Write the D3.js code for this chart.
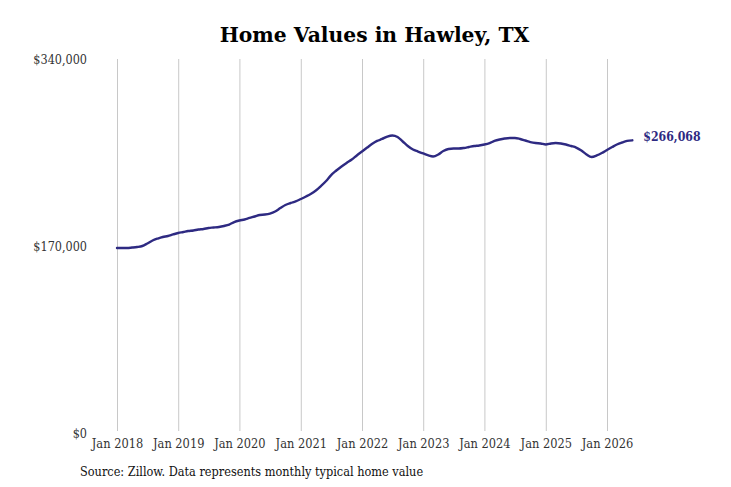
<!DOCTYPE html>
<html>
<head>
<meta charset="utf-8">
<script src="https://cdn.jsdelivr.net/npm/d3@7"></script>
<style>
  body { margin: 0; background: #fff; }
  .chart text { font-family: "DejaVu Serif Condensed", "DejaVu Serif", serif; font-stretch: condensed; }
</style>
</head>
<body>
<div class="chart"></div>
<script>
// Data: monthly typical home value, Hawley TX
const startMonth = "2018-01";
const values = [
    168200, 168200, 168200, 168600, 169100, 170000, 172300, 175000, 176800, 178200, 179100, 180500,
    181800, 182700, 183600, 184100, 185000, 185500, 186400, 186800, 187300, 188200, 189500, 191800,
    193200, 194100, 195500, 196800, 198200, 198600, 199500, 201400, 204500, 207300, 209100, 210500,
    212700, 215000, 217300, 220500, 224500, 229100, 234500, 238600, 242300, 245500, 248600, 252300,
    255900, 259500, 262700, 265500, 267300, 269500, 270500, 269100, 265000, 260900, 257700, 255900,
    254100, 252300, 251400, 253200, 256400, 258200, 258600, 258600, 259100, 260000, 260900, 261400,
    262300, 263600, 265500, 266800, 267700, 268200, 268200, 267300, 265900, 264500, 263600, 263200,
    262300, 263200, 263600, 263200, 262300, 260900, 259500, 256800, 253200, 250900, 252300, 254500,
    257300, 260000, 262300, 264100, 265500, 266068
];
const tickYears = [2018, 2019, 2020, 2021, 2022, 2023, 2024, 2025, 2026];
const yTicks = [0, 170000, 340000];
const endLabel = "$266,068";

const parseMonth = d3.timeParse("%Y-%m");
const data = values.map((v, i) => ({ date: d3.timeMonth.offset(parseMonth(startMonth), i), value: v }));

function drawLineChart(data) {
    const width = 731;
    const height = 487;
    const margin = { top: 59, right: 99, bottom: 54, left: 117 };

    d3.select(".chart").select("svg").remove();
    const svg = d3.select(".chart").append("svg")
        .attr("width", width)
        .attr("height", height);

    // Title
    svg.append("text")
        .attr("x", 374.5)
        .attr("y", 42)
        .attr("text-anchor", "middle")
        .style("font-family", "'DejaVu Serif', serif")
        .style("font-stretch", "normal")
        .style("font-weight", "bold")
        .style("font-size", "20.3px")
        .text("Home Values in Hawley, TX");

    // Scales
    const xScale = d3.scaleTime()
        .domain([new Date(2018, 0, 1), new Date(2026, 0, 1)])
        .range([margin.left, 607]);
    const yScale = d3.scaleLinear()
        .domain([0, 340000])
        .range([height - margin.bottom, margin.top]);

    // Vertical gridlines at January
    const xAxis = d3.axisBottom(xScale)
        .tickValues(tickYears.map(y => new Date(y, 0, 1)))
        .tickSize(-(yScale(0) - yScale(340000) - 2))
        .tickPadding(8)
        .tickFormat(d3.timeFormat("Jan %Y"));
    const gx = svg.append("g")
        .attr("transform", `translate(0, ${yScale(0) - 2})`)
        .call(xAxis);
    gx.select(".domain").remove();
    gx.selectAll(".tick line").attr("stroke", "#c8c8c8").attr("stroke-width", 1);
    gx.selectAll(".tick text").attr("fill", "#333").style("font-size", "12.7px");

    // Y axis labels only
    const yAxis = d3.axisLeft(yScale)
        .tickValues(yTicks)
        .tickSize(0)
        .tickPadding(0)
        .tickFormat(d => "$" + d3.format(",")(d));
    const gy = svg.append("g")
        .attr("transform", "translate(87, 0)")
        .call(yAxis);
    gy.select(".domain").remove();
    gy.selectAll(".tick text").attr("fill", "#333").style("font-size", "12.5px");

    // Line
    const line = d3.line()
        .x(d => xScale(d.date))
        .y(d => yScale(d.value))
        .curve(d3.curveMonotoneX);
    svg.append("path")
        .datum(data)
        .attr("fill", "none")
        .attr("stroke", "#2e2a82")
        .attr("stroke-width", 2.4)
        .attr("stroke-linejoin", "round")
        .attr("stroke-linecap", "round")
        .attr("d", line);

    // End label
    const last = data[data.length - 1];
    svg.append("text")
        .attr("x", xScale(last.date) + 11)
        .attr("y", yScale(last.value) - 4)
        .attr("dy", "0.35em")
        .attr("fill", "#2e2a82")
        .style("font-weight", "bold")
        .style("font-size", "12.2px")
        .text(endLabel);

    // Source note
    svg.append("text")
        .attr("x", 80)
        .attr("y", 476)
        .attr("fill", "#111")
        .style("font-size", "12.6px")
        .text("Source: Zillow. Data represents monthly typical home value");
}

drawLineChart(data);
</script>
</body>
</html>
